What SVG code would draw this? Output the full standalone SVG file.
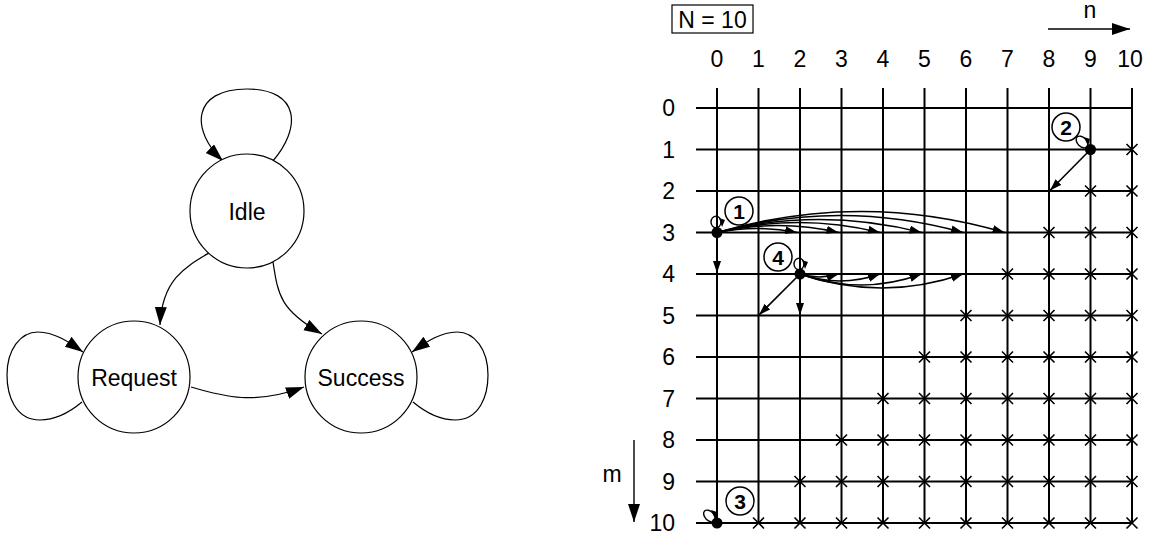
<svg xmlns="http://www.w3.org/2000/svg" width="1151" height="539" viewBox="0 0 1151 539">
<style>
text{font-family:"Liberation Sans",Arial,sans-serif;fill:#000}
.lbl{font-size:23px;text-anchor:middle}
.rl{font-size:23px;text-anchor:end}
.cn{font-size:21px;font-weight:bold;text-anchor:middle}
.node{fill:#fff;stroke:#000;stroke-width:1.2}
.edge{fill:none;stroke:#000;stroke-width:1.2}
.grid line{stroke:#000;stroke-width:2}
.ga{fill:none;stroke:#000;stroke-width:1.6}
.x{stroke:#000;stroke-width:1.6;fill:none}
</style>
<defs>
<marker id="ah" markerUnits="userSpaceOnUse" markerWidth="20" markerHeight="14" refX="18" refY="6" orient="auto">
<path d="M0,0 L18,6 L0,12 Z" fill="#000"/>
</marker>
<marker id="ga" markerUnits="userSpaceOnUse" markerWidth="14" markerHeight="10" refX="12" refY="4" orient="auto">
<path d="M0,0 L12,4 L0,8 Z" fill="#000"/>
</marker>
<path id="cr" class="x" d="M-5.5,-5.5 L5.5,5.5 M-5.5,5.5 L5.5,-5.5"/>
</defs>

<!-- Left state diagram -->
<g id="connectors">
<path class="edge" marker-end="url(#ah)" d="M272,162 C302,128 300,89 247,89 C192,89 190,130 223,161"/>
<path class="edge" marker-end="url(#ah)" d="M209,253 C185,267 162,280 160,325"/>
<path class="edge" marker-end="url(#ah)" d="M273,262 C278,295 280,310 322,334"/>
<path class="edge" marker-end="url(#ah)" d="M191,387 C225,397 255,405 304,387"/>
<path class="edge" marker-end="url(#ah)" d="M82,402 C70,412 55,420 40,420 C15,420 7,395 7,375 C7,350 20,332 38,332 C55,332 70,343 83,352"/>
<path class="edge" marker-end="url(#ah)" d="M413,402 C425,412 440,420 455,420 C480,420 488,395 488,375 C488,350 475,332 457,332 C440,332 425,343 412,352"/>
</g>
<g id="idle"><circle class="node" cx="247" cy="211" r="57"/><text class="lbl" x="247" y="219.5">Idle</text></g>
<g id="request"><circle class="node" cx="134" cy="377" r="56"/><text class="lbl" x="134" y="385.5">Request</text></g>
<g id="success"><circle class="node" cx="361" cy="377" r="56"/><text class="lbl" x="361" y="385.5">Success</text></g>

<!-- Right grid -->
<g id="header">
<rect x="672" y="5" width="81" height="28" fill="none" stroke="#000" stroke-width="1.2"/>
<text x="712.5" y="28" style="font-size:23px;text-anchor:middle">N = 10</text>
<text class="lbl" x="1090" y="18">n</text>
<line x1="1048" y1="29" x2="1130" y2="29" stroke="#000" stroke-width="1.4" marker-end="url(#ah)"/>
<text class="lbl" x="612" y="482">m</text>
<line x1="634" y1="440" x2="634" y2="522" stroke="#000" stroke-width="1.4" marker-end="url(#ah)"/>
</g>
<g id="col-labels">
<text class="lbl" x="717" y="67">0</text>
<text class="lbl" x="758.5" y="67">1</text>
<text class="lbl" x="800" y="67">2</text>
<text class="lbl" x="841.5" y="67">3</text>
<text class="lbl" x="883" y="67">4</text>
<text class="lbl" x="924.5" y="67">5</text>
<text class="lbl" x="966" y="67">6</text>
<text class="lbl" x="1007.5" y="67">7</text>
<text class="lbl" x="1049" y="67">8</text>
<text class="lbl" x="1090.5" y="67">9</text>
<text class="lbl" x="1130" y="67">10</text>
</g>
<g id="row-labels">
<text class="rl" x="675" y="116">0</text>
<text class="rl" x="675" y="157.5">1</text>
<text class="rl" x="675" y="199">2</text>
<text class="rl" x="675" y="240.5">3</text>
<text class="rl" x="675" y="282">4</text>
<text class="rl" x="675" y="323.5">5</text>
<text class="rl" x="675" y="365">6</text>
<text class="rl" x="675" y="406.5">7</text>
<text class="rl" x="675" y="448">8</text>
<text class="rl" x="675" y="489.5">9</text>
<text class="rl" x="675" y="531">10</text>
</g>
<g id="grid" class="grid">
<line x1="696" y1="108" x2="1133" y2="108"/>
<line x1="696" y1="149.5" x2="1133" y2="149.5"/>
<line x1="696" y1="191" x2="1133" y2="191"/>
<line x1="696" y1="232.5" x2="1133" y2="232.5"/>
<line x1="696" y1="274" x2="1133" y2="274"/>
<line x1="696" y1="315.5" x2="1133" y2="315.5"/>
<line x1="696" y1="357" x2="1133" y2="357"/>
<line x1="696" y1="398.5" x2="1133" y2="398.5"/>
<line x1="696" y1="440" x2="1133" y2="440"/>
<line x1="696" y1="481.5" x2="1133" y2="481.5"/>
<line x1="696" y1="523" x2="1133" y2="523"/>
<line x1="717" y1="88" x2="717" y2="523"/>
<line x1="758.5" y1="88" x2="758.5" y2="523"/>
<line x1="800" y1="88" x2="800" y2="523"/>
<line x1="841.5" y1="88" x2="841.5" y2="523"/>
<line x1="883" y1="88" x2="883" y2="523"/>
<line x1="924.5" y1="88" x2="924.5" y2="523"/>
<line x1="966" y1="88" x2="966" y2="523"/>
<line x1="1007.5" y1="88" x2="1007.5" y2="523"/>
<line x1="1049" y1="88" x2="1049" y2="523"/>
<line x1="1090.5" y1="88" x2="1090.5" y2="523"/>
<line x1="1132" y1="88" x2="1132" y2="523"/>
</g>
<g id="crosses">
<use href="#cr" x="1132" y="149.5"/>
<use href="#cr" x="1090.5" y="191"/><use href="#cr" x="1132" y="191"/>
<use href="#cr" x="1049" y="232.5"/><use href="#cr" x="1090.5" y="232.5"/><use href="#cr" x="1132" y="232.5"/>
<use href="#cr" x="1007.5" y="274"/><use href="#cr" x="1049" y="274"/><use href="#cr" x="1090.5" y="274"/><use href="#cr" x="1132" y="274"/>
<use href="#cr" x="966" y="315.5"/><use href="#cr" x="1007.5" y="315.5"/><use href="#cr" x="1049" y="315.5"/><use href="#cr" x="1090.5" y="315.5"/><use href="#cr" x="1132" y="315.5"/>
<use href="#cr" x="924.5" y="357"/><use href="#cr" x="966" y="357"/><use href="#cr" x="1007.5" y="357"/><use href="#cr" x="1049" y="357"/><use href="#cr" x="1090.5" y="357"/><use href="#cr" x="1132" y="357"/>
<use href="#cr" x="883" y="398.5"/><use href="#cr" x="924.5" y="398.5"/><use href="#cr" x="966" y="398.5"/><use href="#cr" x="1007.5" y="398.5"/><use href="#cr" x="1049" y="398.5"/><use href="#cr" x="1090.5" y="398.5"/><use href="#cr" x="1132" y="398.5"/>
<use href="#cr" x="841.5" y="440"/><use href="#cr" x="883" y="440"/><use href="#cr" x="924.5" y="440"/><use href="#cr" x="966" y="440"/><use href="#cr" x="1007.5" y="440"/><use href="#cr" x="1049" y="440"/><use href="#cr" x="1090.5" y="440"/><use href="#cr" x="1132" y="440"/>
<use href="#cr" x="800" y="481.5"/><use href="#cr" x="841.5" y="481.5"/><use href="#cr" x="883" y="481.5"/><use href="#cr" x="924.5" y="481.5"/><use href="#cr" x="966" y="481.5"/><use href="#cr" x="1007.5" y="481.5"/><use href="#cr" x="1049" y="481.5"/><use href="#cr" x="1090.5" y="481.5"/><use href="#cr" x="1132" y="481.5"/>
<use href="#cr" x="758.5" y="523"/><use href="#cr" x="800" y="523"/><use href="#cr" x="841.5" y="523"/><use href="#cr" x="883" y="523"/><use href="#cr" x="924.5" y="523"/><use href="#cr" x="966" y="523"/><use href="#cr" x="1007.5" y="523"/><use href="#cr" x="1049" y="523"/><use href="#cr" x="1090.5" y="523"/><use href="#cr" x="1132" y="523"/>
</g>
<g id="grid-arrows">
<path class="ga" marker-end="url(#ga)" d="M717,232.5 Q757,224.5 797,232.5"/>
<path class="ga" marker-end="url(#ga)" d="M717,232.5 Q778,218.5 838.5,232.5"/>
<path class="ga" marker-end="url(#ga)" d="M717,232.5 Q798,212.5 880,232.5"/>
<path class="ga" marker-end="url(#ga)" d="M717,232.5 Q819,206.5 921.5,232.5"/>
<path class="ga" marker-end="url(#ga)" d="M717,232.5 Q840,198.5 963,232.5"/>
<path class="ga" marker-end="url(#ga)" d="M717,232.5 Q861,190.5 1004.5,232.5"/>
<path class="ga" marker-end="url(#ga)" d="M717,232.5 L717,273"/>
<path class="ga" marker-end="url(#ga)" d="M800,274 Q819,280 838.5,274"/>
<path class="ga" marker-end="url(#ga)" d="M800,274 Q840,288 880,274"/>
<path class="ga" marker-end="url(#ga)" d="M800,274 Q861,296 921.5,274"/>
<path class="ga" marker-end="url(#ga)" d="M800,274 Q882,302 963,274"/>
<path class="ga" marker-end="url(#ga)" d="M800,274 L800,315"/>
<path class="ga" marker-end="url(#ga)" d="M800,274 L759,315"/>
<path class="ga" marker-end="url(#ga)" d="M1090.5,149.5 L1050,190.5"/>
</g>
<g id="dot1">
<ellipse cx="716" cy="222" rx="5" ry="5.8" fill="none" stroke="#000" stroke-width="1.4"/>
<polygon points="719,218 725,220 722,227" fill="#000"/>
<circle cx="717" cy="232.5" r="5.5" fill="#000"/>
<circle cx="739" cy="211" r="14" fill="#fff" stroke="#000" stroke-width="1.5"/>
<text class="cn" x="739" y="218.5">1</text>
</g>
<g id="dot4">
<ellipse cx="799" cy="264" rx="5" ry="5.8" fill="none" stroke="#000" stroke-width="1.4"/>
<polygon points="802,260 808,262 805,269" fill="#000"/>
<circle cx="800" cy="274" r="5.5" fill="#000"/>
<circle cx="778" cy="257" r="14" fill="#fff" stroke="#000" stroke-width="1.5"/>
<text class="cn" x="778" y="264.5">4</text>
</g>
<g id="dot2">
<ellipse cx="1082" cy="142" rx="7" ry="4.5" transform="rotate(45 1082 142)" fill="none" stroke="#000" stroke-width="1.4"/>
<polygon points="1084,137 1090,139 1088,146" fill="#000"/>
<circle cx="1090.5" cy="149.5" r="5.5" fill="#000"/>
<circle cx="1066" cy="127" r="14" fill="#fff" stroke="#000" stroke-width="1.5"/>
<text class="cn" x="1066" y="134.5">2</text>
</g>
<g id="dot3">
<ellipse cx="709.5" cy="516" rx="7" ry="4.5" transform="rotate(45 709.5 516)" fill="none" stroke="#000" stroke-width="1.4"/>
<polygon points="711,510 717,512 715,519" fill="#000"/>
<circle cx="717" cy="523" r="5.5" fill="#000"/>
<circle cx="740" cy="501" r="14" fill="#fff" stroke="#000" stroke-width="1.5"/>
<text class="cn" x="740" y="508.5">3</text>
</g>
</svg>
